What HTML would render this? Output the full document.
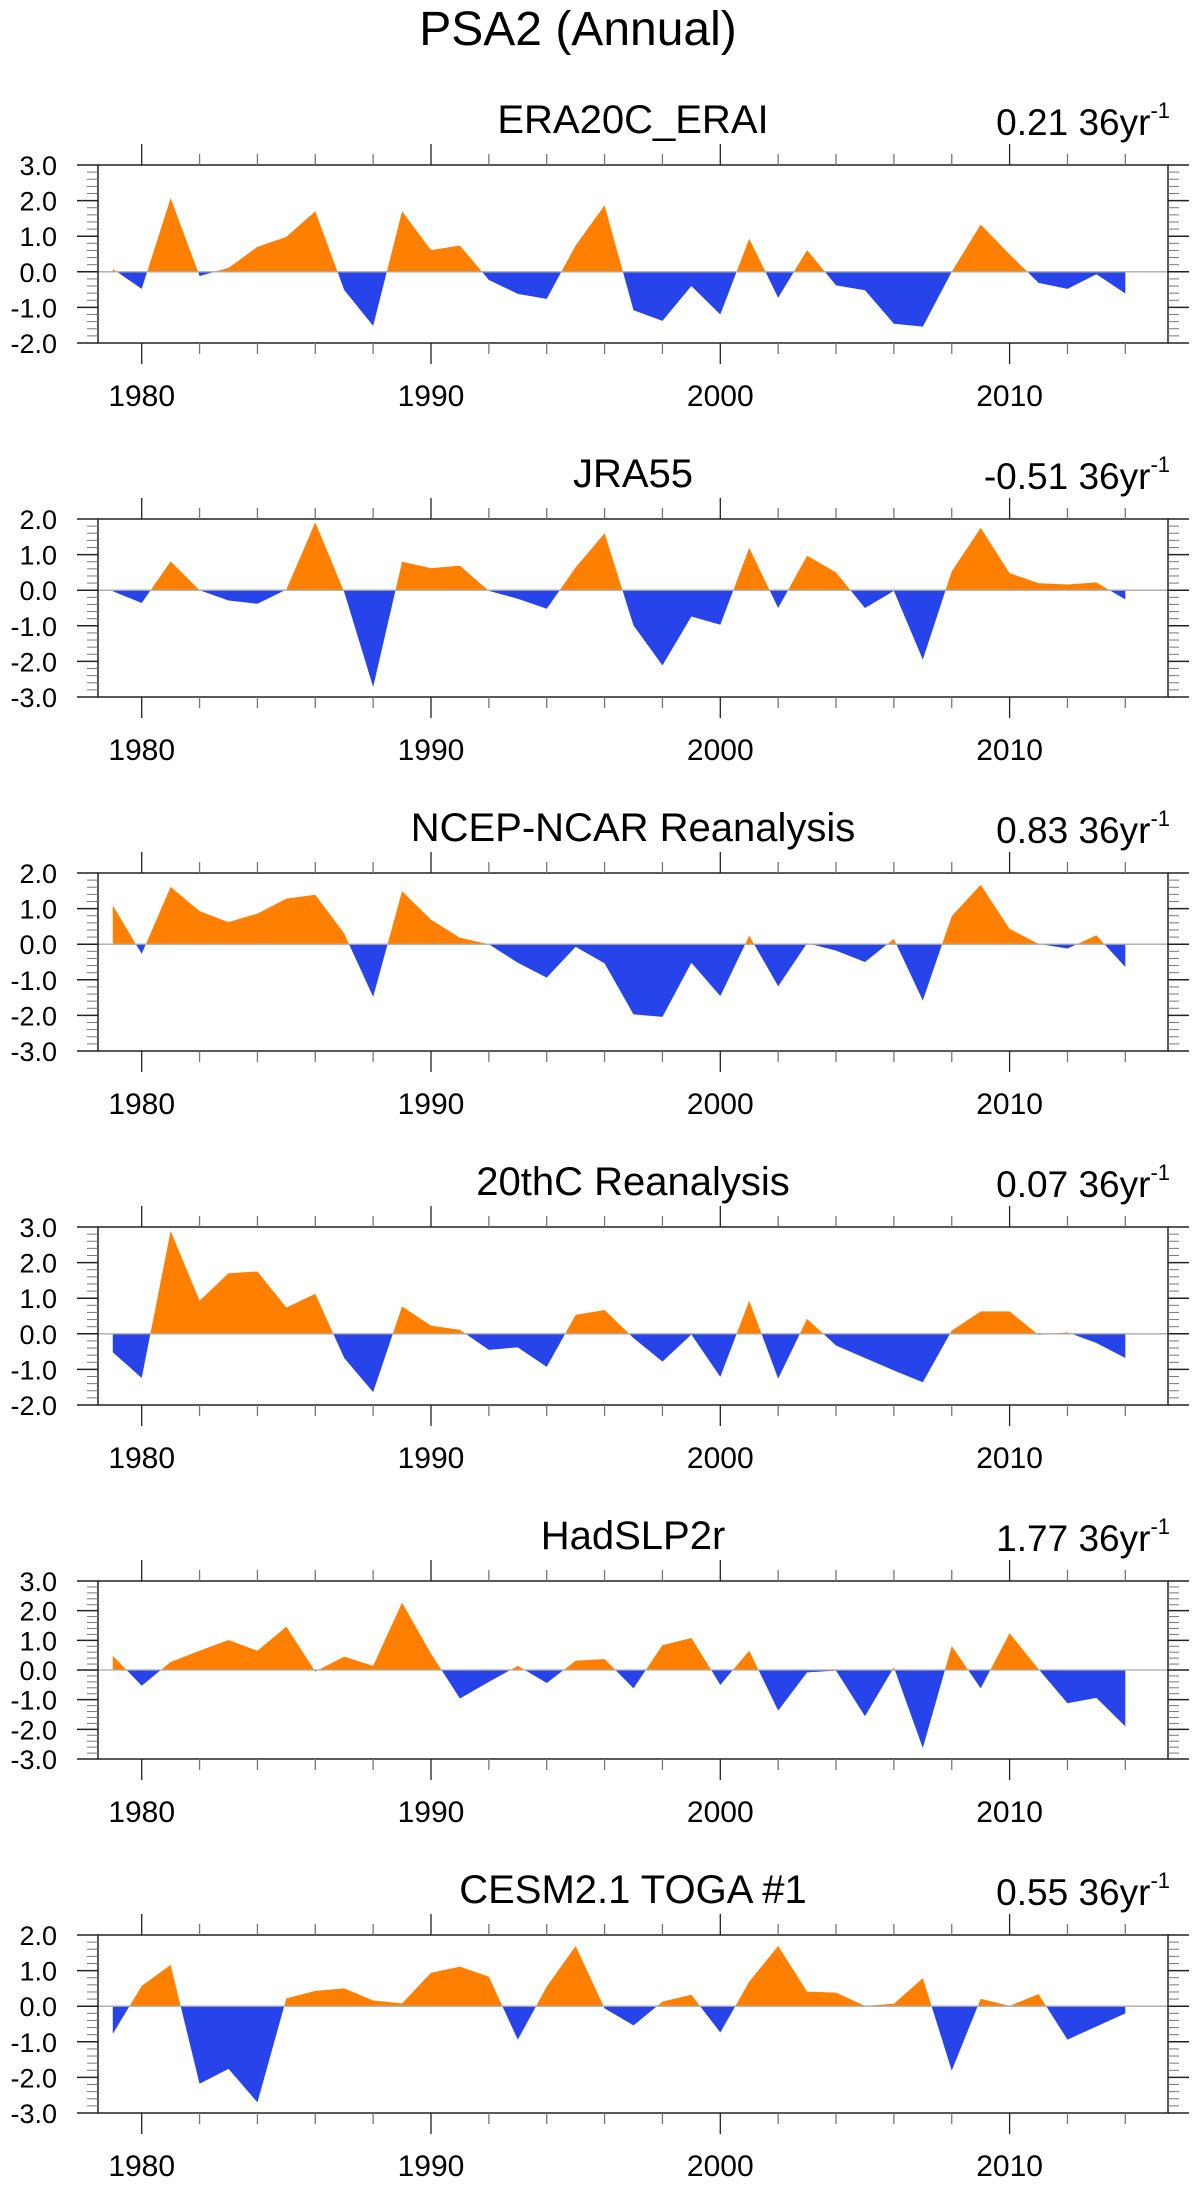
<!DOCTYPE html>
<html><head><meta charset="utf-8"><style>
html,body{margin:0;padding:0;background:#fff;}
svg{display:block;font-family:"Liberation Sans",sans-serif;}
</style></head>
<body>
<svg id="chart" width="1198" height="2186" viewBox="0 0 1198 2186" xmlns="http://www.w3.org/2000/svg">
<text x="578" y="45" font-size="48" text-anchor="middle">PSA2 (Annual)</text>
</svg>
<script>
const years = [];
for (let y = 1979; y <= 2014; y++) years.push(y);
const panelTitles = ["ERA20C_ERAI","JRA55","NCEP-NCAR Reanalysis","20thC Reanalysis","HadSLP2r","CESM2.1 TOGA #1"];
const trendValues = ["0.21","-0.51","0.83","0.07","1.77","0.55"];
const yMins = [-2,-3,-3,-2,-3,-3];
const yMaxs = [3,2,2,3,3,2];
const era20c = [0.08,-0.48,2.07,-0.12,0.11,0.70,0.98,1.70,-0.51,-1.52,1.70,0.61,0.74,-0.23,-0.62,-0.76,0.74,1.87,-1.08,-1.38,-0.40,-1.20,0.93,-0.73,0.61,-0.38,-0.52,-1.46,-1.54,0.0,1.33,0.49,-0.31,-0.48,-0.07,-0.61];
const jra55 = [-0.03,-0.36,0.81,0.0,-0.29,-0.38,0.02,1.91,-0.05,-2.72,0.80,0.62,0.69,-0.02,-0.24,-0.52,0.64,1.60,-0.99,-2.11,-0.74,-0.97,1.19,-0.50,0.97,0.50,-0.50,-0.02,-1.95,0.53,1.75,0.48,0.20,0.16,0.22,-0.26];
const ncep = [1.09,-0.27,1.61,0.93,0.62,0.86,1.28,1.39,0.30,-1.48,1.49,0.69,0.18,0.0,-0.52,-0.94,-0.07,-0.54,-1.97,-2.04,-0.52,-1.46,0.24,-1.18,0.03,-0.18,-0.50,0.15,-1.58,0.79,1.67,0.43,0.01,-0.12,0.25,-0.64];
const c20 = [-0.52,-1.24,2.89,0.93,1.70,1.75,0.74,1.12,-0.68,-1.64,0.77,0.23,0.11,-0.45,-0.38,-0.93,0.53,0.67,-0.12,-0.78,-0.02,-1.21,0.93,-1.26,0.42,-0.33,-0.68,-1.03,-1.36,0.09,0.63,0.63,-0.03,0.04,-0.26,-0.68];
const hadslp = [0.48,-0.53,0.27,0.65,1.01,0.65,1.46,-0.05,0.45,0.14,2.27,0.55,-0.96,-0.40,0.14,-0.44,0.31,0.37,-0.62,0.84,1.08,-0.50,0.65,-1.37,-0.08,-0.02,-1.56,0.09,-2.63,0.81,-0.62,1.24,0.03,-1.12,-0.94,-1.90];
const cesm = [-0.78,0.57,1.16,-2.18,-1.76,-2.70,0.22,0.43,0.50,0.16,0.08,0.94,1.11,0.83,-0.94,0.55,1.69,-0.06,-0.54,0.13,0.32,-0.74,0.69,1.69,0.41,0.38,0.01,0.07,0.79,-1.81,0.21,0.01,0.34,-0.94,-0.57,-0.20];
const seriesList = [era20c, jra55, ncep, c20, hadslp, cesm];

const NS = "http://www.w3.org/2000/svg";
const svg = document.getElementById("chart");
const X0 = 98, X1 = 1168, PH = 178;
const xScale = y => 141.7 + (y - 1980) * 28.93;
function mk(tag, attrs, parent) {
  const e = document.createElementNS(NS, tag);
  for (const k in attrs) e.setAttribute(k, attrs[k]);
  (parent || svg).appendChild(e);
  return e;
}
function fmt(v){ return (v < 0 ? "-" : "") + Math.abs(v).toFixed(1); }

seriesList.forEach((vals, p) => {
  const top = 165 + p * 354, bot = top + PH;
  const lo = yMins[p], hi = yMaxs[p];
  const yScale = v => bot - (v - lo) / (hi - lo) * PH;
  const g = mk("g", {});
  
  
  const y0 = yScale(0);
  const pts = [];
  for (let i = 0; i < vals.length; i++) {
    pts.push([xScale(years[i]), vals[i]]);
    if (i < vals.length - 1 && vals[i] * vals[i + 1] < 0) {
      const t = vals[i] / (vals[i] - vals[i + 1]);
      pts.push([xScale(years[i]) + t * (xScale(years[i + 1]) - xScale(years[i])), 0]);
    }
  }
  let dp = `M${pts[0][0]},${y0}`, dn = dp;
  pts.forEach(q => {
    dp += ` L${q[0]},${yScale(Math.max(q[1], 0))}`;
    dn += ` L${q[0]},${yScale(Math.min(q[1], 0))}`;
  });
  dp += ` L${pts[pts.length - 1][0]},${y0} Z`;
  dn += ` L${pts[pts.length - 1][0]},${y0} Z`;
  const ap = mk("path", {d: dp, fill: "#ff8000"}, g);
  
  
  const an = mk("path", {d: dn, fill: "#2744ea"}, g);
  
  
  const zl = mk("line", {x1: X0, x2: X1, y1: y0, y2: y0, stroke: "#aaa", "stroke-width": 1.3}, g);
  
  
  const fr = mk("rect", {x: X0, y: top, width: X1 - X0, height: PH, fill: "none", stroke: "#222", "stroke-width": 1.5}, g);
  
  
  for (let k = 0; k <= (hi - lo) * 5; k++) {
    const v = lo + k * 0.2, yy = yScale(v);
    const major = k % 5 === 0;
    const L = major ? 21 : 11;
    mk("line", {x1: X0 - L, x2: X0, y1: yy, y2: yy, stroke: major ? "#222" : "#777", "stroke-width": major ? 1.5 : 1}, g);
    mk("line", {x1: X1, x2: X1 + L, y1: yy, y2: yy, stroke: major ? "#222" : "#777", "stroke-width": major ? 1.5 : 1}, g);
    if (major) {
      const t = mk("text", {x: 57, y: yy + 10, "font-size": 27, "text-anchor": "end"}, g);
      
      
      t.textContent = fmt(v);
    }
  }
  for (let yr = 1980; yr <= 2014; yr += 2) {
    const xx = xScale(yr), major = yr % 10 === 0, L = major ? 21 : 11;
    mk("line", {x1: xx, x2: xx, y1: top - L, y2: top, stroke: major ? "#222" : "#777", "stroke-width": 1.3}, g);
    mk("line", {x1: xx, x2: xx, y1: bot, y2: bot + L, stroke: major ? "#222" : "#777", "stroke-width": 1.3}, g);
    if (major) {
      const t = mk("text", {x: xx, y: bot + 63, "font-size": 30, "text-anchor": "middle"}, g);
      
      
      t.textContent = String(yr);
    }
  }
  const tt = mk("text", {x: 633, y: top - 32, "font-size": 40, "text-anchor": "middle"}, g);
  
  
  tt.textContent = panelTitles[p];
  const tr = mk("text", {x: 1170, y: top - 30, "font-size": 37, "text-anchor": "end"}, g);
  
  
  tr.textContent = trendValues[p] + " 36yr";
  const sup = mk("tspan", {"font-size": 22, dy: -17}, tr);
  sup.textContent = "-1";
});
</script>
</body></html>
